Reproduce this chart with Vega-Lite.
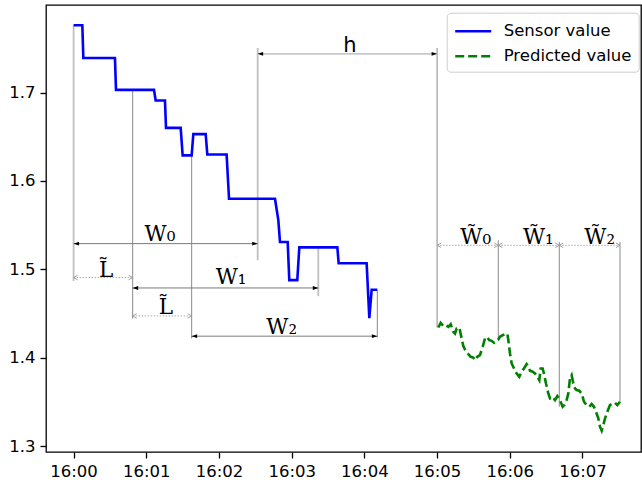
{
  "$schema": "https://vega.github.io/schema/vega-lite/v6.json",
  "autosize": {"type": "none"},
  "padding": {"left": 46, "top": 5, "right": 1, "bottom": 31},
  "width": 595,
  "height": 447,
  "background": "white",
  "config": {
    "view": {"stroke": "black", "strokeWidth": 1.3},
    "axis": {"labelFont": "DejaVu Sans", "labelFontSize": 16.5, "labelColor": "black", "tickColor": "black", "tickWidth": 1.3, "tickSize": 6, "labelPadding": 5, "domain": false, "grid": false, "title": null}
  },
  "datasets": {
    "series": [
      {"series": "Sensor value", "t": 0, "v": 1.776},
      {"series": "Sensor value", "t": 0.12, "v": 1.776},
      {"series": "Sensor value", "t": 0.134, "v": 1.739},
      {"series": "Sensor value", "t": 0.569, "v": 1.739},
      {"series": "Sensor value", "t": 0.583, "v": 1.703},
      {"series": "Sensor value", "t": 1.106, "v": 1.703},
      {"series": "Sensor value", "t": 1.129, "v": 1.691},
      {"series": "Sensor value", "t": 1.257, "v": 1.691},
      {"series": "Sensor value", "t": 1.271, "v": 1.66},
      {"series": "Sensor value", "t": 1.473, "v": 1.66},
      {"series": "Sensor value", "t": 1.5, "v": 1.629},
      {"series": "Sensor value", "t": 1.624, "v": 1.629},
      {"series": "Sensor value", "t": 1.647, "v": 1.653},
      {"series": "Sensor value", "t": 1.817, "v": 1.653},
      {"series": "Sensor value", "t": 1.839, "v": 1.63},
      {"series": "Sensor value", "t": 2.105, "v": 1.63},
      {"series": "Sensor value", "t": 2.138, "v": 1.58},
      {"series": "Sensor value", "t": 2.77, "v": 1.58},
      {"series": "Sensor value", "t": 2.816, "v": 1.556},
      {"series": "Sensor value", "t": 2.839, "v": 1.531},
      {"series": "Sensor value", "t": 2.945, "v": 1.531},
      {"series": "Sensor value", "t": 2.967, "v": 1.488},
      {"series": "Sensor value", "t": 3.077, "v": 1.488},
      {"series": "Sensor value", "t": 3.105, "v": 1.525},
      {"series": "Sensor value", "t": 3.628, "v": 1.525},
      {"series": "Sensor value", "t": 3.646, "v": 1.507},
      {"series": "Sensor value", "t": 4.031, "v": 1.507},
      {"series": "Sensor value", "t": 4.068, "v": 1.445},
      {"series": "Sensor value", "t": 4.1, "v": 1.477},
      {"series": "Sensor value", "t": 4.178, "v": 1.477},
      {"series": "Predicted value", "t": 5.017, "v": 1.4344},
      {"series": "Predicted value", "t": 5.049, "v": 1.4397},
      {"series": "Predicted value", "t": 5.086, "v": 1.4359},
      {"series": "Predicted value", "t": 5.122, "v": 1.437},
      {"series": "Predicted value", "t": 5.155, "v": 1.4351},
      {"series": "Predicted value", "t": 5.187, "v": 1.4381},
      {"series": "Predicted value", "t": 5.223, "v": 1.4295},
      {"series": "Predicted value", "t": 5.246, "v": 1.4276},
      {"series": "Predicted value", "t": 5.269, "v": 1.4333},
      {"series": "Predicted value", "t": 5.306, "v": 1.4344},
      {"series": "Predicted value", "t": 5.338, "v": 1.422},
      {"series": "Predicted value", "t": 5.361, "v": 1.4133},
      {"series": "Predicted value", "t": 5.398, "v": 1.4069},
      {"series": "Predicted value", "t": 5.43, "v": 1.4043},
      {"series": "Predicted value", "t": 5.462, "v": 1.4013},
      {"series": "Predicted value", "t": 5.498, "v": 1.4005},
      {"series": "Predicted value", "t": 5.521, "v": 1.3975},
      {"series": "Predicted value", "t": 5.553, "v": 1.4013},
      {"series": "Predicted value", "t": 5.59, "v": 1.4032},
      {"series": "Predicted value", "t": 5.627, "v": 1.4126},
      {"series": "Predicted value", "t": 5.659, "v": 1.422},
      {"series": "Predicted value", "t": 5.682, "v": 1.4239},
      {"series": "Predicted value", "t": 5.718, "v": 1.4201},
      {"series": "Predicted value", "t": 5.751, "v": 1.4193},
      {"series": "Predicted value", "t": 5.783, "v": 1.4171},
      {"series": "Predicted value", "t": 5.819, "v": 1.4201},
      {"series": "Predicted value", "t": 5.842, "v": 1.4208},
      {"series": "Predicted value", "t": 5.865, "v": 1.4239},
      {"series": "Predicted value", "t": 5.902, "v": 1.4257},
      {"series": "Predicted value", "t": 5.934, "v": 1.4269},
      {"series": "Predicted value", "t": 5.966, "v": 1.4276},
      {"series": "Predicted value", "t": 5.98, "v": 1.4201},
      {"series": "Predicted value", "t": 6.003, "v": 1.405},
      {"series": "Predicted value", "t": 6.026, "v": 1.3938},
      {"series": "Predicted value", "t": 6.058, "v": 1.3881},
      {"series": "Predicted value", "t": 6.095, "v": 1.3825},
      {"series": "Predicted value", "t": 6.131, "v": 1.3787},
      {"series": "Predicted value", "t": 6.163, "v": 1.3844},
      {"series": "Predicted value", "t": 6.195, "v": 1.3881},
      {"series": "Predicted value", "t": 6.232, "v": 1.393},
      {"series": "Predicted value", "t": 6.255, "v": 1.39},
      {"series": "Predicted value", "t": 6.278, "v": 1.3855},
      {"series": "Predicted value", "t": 6.315, "v": 1.3844},
      {"series": "Predicted value", "t": 6.347, "v": 1.3825},
      {"series": "Predicted value", "t": 6.379, "v": 1.3787},
      {"series": "Predicted value", "t": 6.406, "v": 1.3749},
      {"series": "Predicted value", "t": 6.425, "v": 1.3881},
      {"series": "Predicted value", "t": 6.452, "v": 1.3881},
      {"series": "Predicted value", "t": 6.47, "v": 1.3825},
      {"series": "Predicted value", "t": 6.498, "v": 1.3712},
      {"series": "Predicted value", "t": 6.53, "v": 1.3599},
      {"series": "Predicted value", "t": 6.553, "v": 1.3543},
      {"series": "Predicted value", "t": 6.59, "v": 1.3561},
      {"series": "Predicted value", "t": 6.622, "v": 1.3524},
      {"series": "Predicted value", "t": 6.654, "v": 1.3569},
      {"series": "Predicted value", "t": 6.681, "v": 1.3543},
      {"series": "Predicted value", "t": 6.7, "v": 1.3505},
      {"series": "Predicted value", "t": 6.727, "v": 1.3448},
      {"series": "Predicted value", "t": 6.75, "v": 1.3467},
      {"series": "Predicted value", "t": 6.782, "v": 1.3524},
      {"series": "Predicted value", "t": 6.805, "v": 1.3599},
      {"series": "Predicted value", "t": 6.828, "v": 1.3768},
      {"series": "Predicted value", "t": 6.851, "v": 1.3806},
      {"series": "Predicted value", "t": 6.874, "v": 1.3712},
      {"series": "Predicted value", "t": 6.897, "v": 1.3655},
      {"series": "Predicted value", "t": 6.92, "v": 1.3637},
      {"series": "Predicted value", "t": 6.956, "v": 1.3629},
      {"series": "Predicted value", "t": 6.989, "v": 1.3599},
      {"series": "Predicted value", "t": 7.021, "v": 1.3505},
      {"series": "Predicted value", "t": 7.057, "v": 1.3467},
      {"series": "Predicted value", "t": 7.094, "v": 1.3448},
      {"series": "Predicted value", "t": 7.126, "v": 1.3479},
      {"series": "Predicted value", "t": 7.158, "v": 1.3448},
      {"series": "Predicted value", "t": 7.186, "v": 1.3392},
      {"series": "Predicted value", "t": 7.218, "v": 1.3317},
      {"series": "Predicted value", "t": 7.241, "v": 1.3223},
      {"series": "Predicted value", "t": 7.264, "v": 1.3178},
      {"series": "Predicted value", "t": 7.287, "v": 1.3242},
      {"series": "Predicted value", "t": 7.31, "v": 1.3317},
      {"series": "Predicted value", "t": 7.342, "v": 1.3392},
      {"series": "Predicted value", "t": 7.378, "v": 1.3467},
      {"series": "Predicted value", "t": 7.415, "v": 1.3486},
      {"series": "Predicted value", "t": 7.447, "v": 1.3494},
      {"series": "Predicted value", "t": 7.479, "v": 1.3467},
      {"series": "Predicted value", "t": 7.516, "v": 1.3505}
    ],
    "boundaries": [
      {"t": 0, "y1": 1.776, "y2": 1.487},
      {"t": 2.532, "y1": 1.7504, "y2": 1.5104},
      {"t": 3.366, "y1": 1.5254, "y2": 1.4698}
    ],
    "splits": [
      {"t": 0.8125, "y1": 1.703, "y2": 1.4446},
      {"t": 1.624, "y1": 1.629, "y2": 1.422},
      {"t": 4.178, "y1": 1.4765, "y2": 1.4231},
      {"t": 5.0, "y1": 1.7504, "y2": 1.4344},
      {"t": 5.842, "y1": 1.533, "y2": 1.4201},
      {"t": 6.681, "y1": 1.531, "y2": 1.3448},
      {"t": 7.516, "y1": 1.531, "y2": 1.3505}
    ],
    "windowArrows": [
      {"name": "W0", "x1": 0, "x2": 2.532, "y": 1.5292},
      {"name": "W1", "x1": 0.8125, "x2": 3.366, "y": 1.4791},
      {"name": "W2", "x1": 1.624, "x2": 4.178, "y": 1.4246}
    ],
    "horizonArrow": [
      {"name": "h", "x1": 2.532, "x2": 5.0, "y": 1.7437}
    ],
    "dottedArrows": [
      {"name": "L1", "x1": 0, "x2": 0.8125, "y": 1.4908},
      {"name": "L2", "x1": 0.8125, "x2": 1.624, "y": 1.4475},
      {"name": "Wt0", "x1": 5.0, "x2": 5.842, "y": 1.5273},
      {"name": "Wt1", "x1": 5.842, "x2": 6.681, "y": 1.5273},
      {"name": "Wt2", "x1": 6.681, "x2": 7.516, "y": 1.5273}
    ],
    "serifLabels": [
      {"label": "W₀", "t": 1.188, "v": 1.5322},
      {"label": "L̃", "t": 0.446, "v": 1.4916},
      {"label": "W₁", "t": 2.165, "v": 1.4833},
      {"label": "L̃", "t": 1.271, "v": 1.4494},
      {"label": "W₂", "t": 2.862, "v": 1.4276},
      {"label": "W̃₀", "t": 5.531, "v": 1.5292},
      {"label": "W̃₁", "t": 6.392, "v": 1.5292},
      {"label": "W̃₂", "t": 7.237, "v": 1.5292}
    ],
    "sansLabels": [
      {"label": "h", "t": 3.8, "v": 1.7455}
    ]
  },
  "layer": [
    {
      "data": {"name": "boundaries"},
      "mark": {"type": "rule", "color": "#c0c0c0", "strokeWidth": 1.8},
      "encoding": {
        "x": {"field": "t", "type": "quantitative", "scale": {"domain": [-0.3796, 7.805], "nice": false, "zero": false},
          "axis": {"values": [0, 1, 2, 3, 4, 5, 6, 7], "labelExpr": "'16:0' + datum.value"}},
        "y": {"field": "y1", "type": "quantitative", "scale": {"domain": [1.2937, 1.7989], "nice": false, "zero": false},
          "axis": {"values": [1.3, 1.4, 1.5, 1.6, 1.7], "format": ".1f"}},
        "y2": {"field": "y2"}
      }
    },
    {
      "data": {"name": "splits"},
      "mark": {"type": "rule", "color": "#8a8a8a", "strokeWidth": 1},
      "encoding": {
        "x": {"field": "t", "type": "quantitative"},
        "y": {"field": "y1", "type": "quantitative"},
        "y2": {"field": "y2"}
      }
    },
    {
      "data": {"name": "horizonArrow"},
      "mark": {"type": "rule", "color": "#c8c8c8", "strokeWidth": 1.8},
      "encoding": {
        "x": {"field": "x1", "type": "quantitative"},
        "x2": {"field": "x2"},
        "y": {"field": "y", "type": "quantitative"}
      }
    },
    {
      "data": {"name": "windowArrows"},
      "mark": {"type": "rule", "color": "#7a7a7a", "strokeWidth": 1},
      "encoding": {
        "x": {"field": "x1", "type": "quantitative"},
        "x2": {"field": "x2"},
        "y": {"field": "y", "type": "quantitative"}
      }
    },
    {
      "data": {"name": "dottedArrows"},
      "mark": {"type": "rule", "color": "#a8a8a8", "strokeWidth": 1, "strokeDash": [1.5, 1.5]},
      "encoding": {
        "x": {"field": "x1", "type": "quantitative"},
        "x2": {"field": "x2"},
        "y": {"field": "y", "type": "quantitative"}
      }
    },
    {
      "data": {"name": "windowArrows"},
      "mark": {"type": "point", "shape": "M0,0L2,-0.7L2,0.7Z", "filled": true, "color": "black", "opacity": 1, "size": 30, "strokeWidth": 0},
      "encoding": {
        "x": {"field": "x1", "type": "quantitative"},
        "y": {"field": "y", "type": "quantitative"}
      }
    },
    {
      "data": {"name": "windowArrows"},
      "mark": {"type": "point", "shape": "M0,0L-2,-0.7L-2,0.7Z", "filled": true, "color": "black", "opacity": 1, "size": 30, "strokeWidth": 0},
      "encoding": {
        "x": {"field": "x2", "type": "quantitative"},
        "y": {"field": "y", "type": "quantitative"}
      }
    },
    {
      "data": {"name": "horizonArrow"},
      "mark": {"type": "point", "shape": "M0,0L2,-0.7L2,0.7Z", "filled": true, "color": "black", "opacity": 1, "size": 30, "strokeWidth": 0},
      "encoding": {
        "x": {"field": "x1", "type": "quantitative"},
        "y": {"field": "y", "type": "quantitative"}
      }
    },
    {
      "data": {"name": "horizonArrow"},
      "mark": {"type": "point", "shape": "M0,0L-2,-0.7L-2,0.7Z", "filled": true, "color": "black", "opacity": 1, "size": 30, "strokeWidth": 0},
      "encoding": {
        "x": {"field": "x2", "type": "quantitative"},
        "y": {"field": "y", "type": "quantitative"}
      }
    },
    {
      "data": {"name": "dottedArrows"},
      "mark": {"type": "point", "shape": "M1.6,-0.9L0,0L1.6,0.9", "filled": false, "color": "#a0a0a0", "opacity": 1, "size": 25, "strokeWidth": 1},
      "encoding": {
        "x": {"field": "x1", "type": "quantitative"},
        "y": {"field": "y", "type": "quantitative"}
      }
    },
    {
      "data": {"name": "dottedArrows"},
      "mark": {"type": "point", "shape": "M-1.6,-0.9L0,0L-1.6,0.9", "filled": false, "color": "#a0a0a0", "opacity": 1, "size": 25, "strokeWidth": 1},
      "encoding": {
        "x": {"field": "x2", "type": "quantitative"},
        "y": {"field": "y", "type": "quantitative"}
      }
    },
    {
      "data": {"name": "serifLabels"},
      "mark": {"type": "text", "font": "DejaVu Serif", "fontSize": 21.5, "color": "black", "align": "center", "baseline": "alphabetic"},
      "encoding": {
        "x": {"field": "t", "type": "quantitative"},
        "y": {"field": "v", "type": "quantitative"},
        "text": {"field": "label"}
      }
    },
    {
      "data": {"name": "sansLabels"},
      "mark": {"type": "text", "font": "DejaVu Sans", "fontSize": 21, "color": "black", "align": "center", "baseline": "alphabetic"},
      "encoding": {
        "x": {"field": "t", "type": "quantitative"},
        "y": {"field": "v", "type": "quantitative"},
        "text": {"field": "label"}
      }
    },
    {
      "data": {"name": "series"},
      "mark": {"type": "line", "strokeWidth": 2.6},
      "encoding": {
        "x": {"field": "t", "type": "quantitative"},
        "y": {"field": "v", "type": "quantitative"},
        "color": {"field": "series", "type": "nominal", "sort": null,
          "scale": {"domain": ["Sensor value", "Predicted value"], "range": ["#0000ff", "#008000"]},
          "legend": {"title": null, "orient": "none", "legendX": 400.7, "legendY": 7.7, "labelFont": "DejaVu Sans", "labelFontSize": 16.5, "labelColor": "black", "symbolType": "M-1,0L2.6,0", "symbolSize": 400, "symbolStrokeWidth": 2.6, "labelOffset": 27, "padding": 7, "rowPadding": 5, "strokeColor": "#cccccc", "fillColor": "white", "cornerRadius": 4}},
        "strokeDash": {"field": "series", "type": "nominal", "sort": null,
          "scale": {"domain": ["Sensor value", "Predicted value"], "range": [[1, 0], [9, 4]]},
          "legend": {"title": null, "orient": "none", "legendX": 400.7, "legendY": 7.7, "labelFont": "DejaVu Sans", "labelFontSize": 16.5, "labelColor": "black", "symbolType": "M-1,0L2.6,0", "symbolSize": 400, "symbolStrokeWidth": 2.6, "labelOffset": 27, "padding": 7, "rowPadding": 5, "strokeColor": "#cccccc", "fillColor": "white", "cornerRadius": 4}}
      }
    }
  ]
}
